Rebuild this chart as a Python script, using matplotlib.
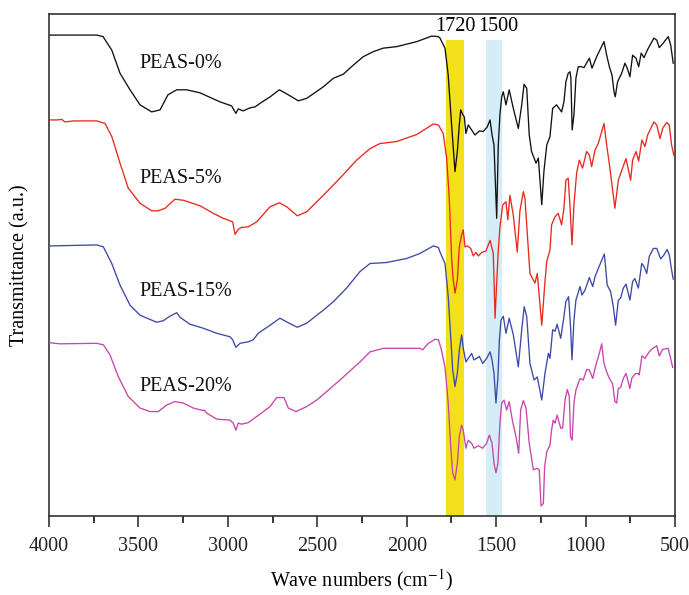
import matplotlib
matplotlib.use("Agg")
import matplotlib.pyplot as plt

plt.rcParams['font.family'] = ['Liberation Serif', 'DejaVu Serif']
plt.rcParams['mathtext.fontset'] = 'stix'

# ---- data (wavenumber cm^-1, transmittance a.u.) ----
wn_0 = [3994, 3733, 3698, 3649, 3603, 3547, 3491, 3426, 3379, 3335, 3286, 3230, 3156, 3044, 2979,
        2955, 2942, 2915, 2876, 2848, 2820, 2764, 2712, 2662, 2606, 2559, 2466, 2410, 2355, 2299,
        2243, 2187, 2131, 2056, 1944, 1860, 1823, 1814, 1786, 1768, 1749, 1730, 1717, 1706, 1698,
        1687, 1678, 1669, 1656, 1637, 1618, 1594, 1572, 1550, 1534, 1523, 1512, 1497, 1488, 1479,
        1469, 1460, 1445, 1427, 1404, 1376, 1357, 1344, 1329, 1315, 1302, 1277, 1264, 1245, 1233,
        1217, 1199, 1184, 1162, 1134, 1121, 1110, 1097, 1087, 1082, 1075, 1065, 1054, 1041, 1022,
        1009, 979, 964, 938, 897, 882, 867, 852, 841, 834, 821, 798, 780, 767, 752, 737, 718, 703,
        689, 673, 655, 618, 602, 588, 566, 538, 524, 510]
t_0 = [95.8, 95.8, 95.5, 92.8, 88.2, 84.9, 81.9, 80.5, 80.9, 83.9, 84.9, 84.9, 84.3, 82.5, 81.7,
       80.2, 81.1, 80.7, 81.3, 81.5, 82.2, 83.5, 84.9, 83.9, 82.7, 83.2, 85.5, 87.2, 88.0, 89.8,
       91.5, 92.5, 93.2, 93.5, 94.5, 95.6, 95.5, 95.2, 93.2, 87.8, 77.9, 68.6, 72.6, 77.9, 80.9,
       80.0, 79.5, 76.2, 77.9, 76.9, 75.9, 76.7, 76.6, 77.5, 78.9, 75.9, 73.9, 59.3, 73.9, 79.9,
       83.5, 84.5, 81.9, 84.9, 81.2, 77.2, 81.9, 86.0, 85.2, 75.9, 72.6, 70.3, 71.3, 62.0, 68.6,
       73.9, 75.6, 81.2, 81.9, 80.5, 82.5, 86.5, 88.2, 88.5, 87.2, 76.9, 79.9, 87.2, 89.5, 89.5,
       89.3, 91.2, 89.2, 91.5, 94.5, 91.8, 89.5, 87.8, 84.5, 83.5, 86.5, 88.2, 90.2, 89.2, 87.5,
       91.8, 91.2, 89.5, 92.2, 91.3, 92.8, 95.2, 94.8, 93.3, 94.2, 95.5, 93.8, 90.2]

wn_5 = [3994, 3957, 3929, 3911, 3864, 3733, 3687, 3649, 3603, 3557, 3491, 3426, 3389, 3351, 3296,
        3249, 3156, 3081, 3026, 2973, 2960, 2942, 2923, 2886, 2839, 2764, 2712, 2671, 2612, 2559,
        2466, 2373, 2280, 2205, 2149, 2056, 1944, 1851, 1823, 1796, 1777, 1762, 1749, 1740, 1730,
        1717, 1706, 1693, 1684, 1674, 1661, 1642, 1628, 1613, 1600, 1581, 1557, 1534, 1516, 1506,
        1497, 1488, 1479, 1463, 1445, 1435, 1423, 1404, 1382, 1367, 1348, 1339, 1311, 1283, 1270,
        1245, 1227, 1217, 1199, 1190, 1171, 1153, 1134, 1121, 1110, 1097, 1087, 1076, 1065, 1050,
        1035, 1017, 994, 979, 966, 947, 929, 897, 882, 864, 836, 817, 774, 748, 737, 718, 703, 685,
        668, 653, 618, 602, 584, 569, 547, 532, 519, 506]
t_5 = [78.9, 78.9, 79.0, 78.5, 78.7, 78.7, 78.2, 75.6, 70.3, 65.3, 62.3, 60.8, 60.8, 61.3, 63.1,
       62.9, 61.8, 60.3, 59.3, 58.6, 56.1, 57.1, 57.5, 57.6, 58.6, 61.6, 62.4, 61.6, 59.8, 60.6,
       63.9, 67.3, 70.9, 73.2, 74.2, 74.6, 76.0, 78.1, 77.9, 76.2, 71.3, 63.3, 51.3, 47.0, 44.4,
       47.0, 53.6, 56.0, 57.0, 53.6, 53.8, 53.3, 51.8, 52.5, 51.8, 52.5, 52.8, 54.9, 52.3, 39.4,
       46.4, 52.9, 57.5, 62.0, 62.6, 59.0, 63.9, 59.9, 52.6, 60.8, 64.6, 63.3, 48.3, 46.4, 48.3,
       38.0, 46.7, 50.7, 53.0, 58.0, 59.6, 60.3, 58.0, 61.3, 66.9, 67.3, 61.6, 54.0, 62.0, 68.3,
       70.9, 69.3, 72.6, 71.9, 69.6, 72.9, 74.2, 78.2, 73.9, 69.3, 61.3, 66.9, 71.2, 66.9, 70.9,
       72.6, 70.7, 74.9, 73.6, 75.9, 78.5, 77.9, 75.2, 77.2, 78.4, 77.9, 73.9, 71.8]

wn_15 = [3994, 3733, 3696, 3649, 3603, 3547, 3491, 3398, 3361, 3324, 3286, 3268, 3212, 3137, 3062,
         2988, 2973, 2955, 2932, 2886, 2858, 2830, 2764, 2709, 2662, 2612, 2559, 2503, 2466, 2410,
         2336, 2261, 2205, 2112, 2000, 1926, 1851, 1823, 1814, 1786, 1768, 1754, 1743, 1730, 1717,
         1706, 1693, 1684, 1669, 1656, 1637, 1624, 1609, 1594, 1575, 1553, 1534, 1523, 1512, 1501,
         1490, 1482, 1473, 1460, 1445, 1427, 1404, 1376, 1357, 1343, 1329, 1311, 1288, 1270, 1245,
         1227, 1208, 1199, 1184, 1171, 1159, 1139, 1125, 1110, 1095, 1084, 1076, 1065, 1054, 1031,
         1020, 1003, 979, 960, 947, 929, 895, 879, 860, 845, 832, 817, 804, 789, 774, 752, 737, 724,
         705, 686, 673, 658, 644, 621, 602, 580, 562, 544, 532, 519, 510]
t_15 = [53.8, 54.0, 53.6, 50.3, 46.0, 42.0, 40.0, 38.6, 38.9, 39.8, 40.5, 39.6, 38.2, 37.4, 36.4,
        35.7, 35.1, 33.6, 34.4, 34.7, 35.1, 36.4, 38.0, 39.4, 38.5, 37.6, 38.4, 40.0, 41.0, 42.7,
        45.4, 48.7, 50.3, 50.5, 51.3, 52.3, 53.8, 53.5, 52.6, 50.3, 43.7, 35.7, 29.1, 25.8, 28.4,
        33.0, 36.1, 33.4, 30.7, 31.4, 32.4, 31.1, 31.4, 31.8, 30.4, 31.4, 32.7, 31.1, 28.4, 22.5,
        27.7, 35.1, 39.0, 39.8, 36.4, 39.4, 36.1, 29.7, 37.1, 41.7, 39.7, 30.4, 27.1, 27.7, 23.1,
        28.4, 32.4, 31.4, 37.1, 36.8, 38.2, 35.4, 38.7, 42.7, 43.7, 37.7, 31.1, 39.0, 43.0, 45.7,
        44.0, 45.0, 47.5, 45.7, 47.7, 49.3, 52.2, 46.0, 44.7, 41.7, 38.0, 43.0, 43.4, 45.4, 46.2,
        43.0, 46.7, 47.3, 45.4, 50.3, 49.7, 48.3, 51.7, 53.3, 53.3, 51.2, 52.0, 53.1, 52.0, 49.0, 47.2]

wn_20 = [3994, 3938, 3733, 3696, 3659, 3613, 3557, 3491, 3435, 3389, 3342, 3296, 3249, 3193, 3137,
         3132, 3118, 3062, 2988, 2970, 2955, 2942, 2923, 2886, 2820, 2764, 2727, 2686, 2662, 2619,
         2559, 2503, 2447, 2373, 2261, 2205, 2131, 1926, 1911, 1879, 1842, 1823, 1808, 1786, 1768,
         1754, 1743, 1730, 1717, 1706, 1693, 1684, 1669, 1656, 1637, 1624, 1600, 1575, 1553, 1538,
         1523, 1512, 1501, 1490, 1479, 1469, 1456, 1441, 1427, 1408, 1389, 1374, 1363, 1348, 1333,
         1315, 1292, 1270, 1259, 1249, 1236, 1229, 1217, 1199, 1190, 1181, 1171, 1159, 1139, 1128,
         1115, 1102, 1091, 1084, 1075, 1065, 1054, 1031, 1013, 994, 979, 960, 942, 923, 910, 897,
         882, 867, 849, 836, 826, 817, 804, 789, 774, 752, 742, 724, 705, 700, 685, 668, 644, 625,
         602, 588, 569, 538, 529, 513]
t_20 = [34.5, 34.3, 34.4, 34.1, 32.1, 27.8, 23.8, 21.5, 20.8, 20.8, 22.1, 22.8, 22.5, 21.5, 21.0,
        21.1, 20.5, 19.3, 19.1, 18.5, 17.1, 18.5, 18.3, 18.6, 20.3, 21.8, 23.6, 23.6, 21.5, 20.8,
        21.8, 23.1, 24.8, 27.1, 30.7, 32.7, 33.4, 33.4, 33.1, 34.4, 35.2, 35.1, 33.4, 29.7, 22.5,
        13.9, 8.6, 7.2, 10.5, 15.8, 18.1, 17.1, 13.5, 15.1, 14.5, 13.5, 14.0, 13.5, 14.5, 16.1,
        14.5, 10.5, 8.6, 10.5, 18.5, 22.5, 23.1, 21.1, 22.8, 18.8, 15.8, 12.5, 21.1, 23.0, 21.5,
        14.5, 9.2, 9.5, 9.2, 2.0, 2.5, 9.8, 12.8, 14.1, 17.1, 19.1, 18.5, 20.1, 17.5, 17.5,
        23.1, 25.2, 23.8, 15.8, 15.1, 22.5, 25.1, 27.4, 27.1, 29.2, 29.1, 27.4, 30.1, 32.4, 34.3, 30.4,
        28.7, 27.4, 26.4, 22.8, 22.5, 25.4, 25.6, 27.4, 28.4, 25.4, 27.4, 28.3, 28.4, 28.1, 31.9, 31.4, 32.7, 33.4,
        33.9, 31.9, 33.2, 33.4, 32.1, 29.6]

labels = ['PEAS-0%', 'PEAS-5%', 'PEAS-15%', 'PEAS-20%']
label_y = [90.2, 67.3, 44.7, 25.8]
colors = ['#111111', '#e8281e', '#3d48a8', '#c944ad']

band_1720 = (1780, 1682)
band_1500 = (1557, 1465)
band_names = ['1720', '1500']

fig = plt.figure(figsize=(6.89, 5.95), dpi=100)
ax = fig.add_axes([49/689, 79/595, 626/689, 502/595])

ax.axvspan(band_1720[0], band_1720[1], ymin=0, ymax=0.948, color='#f4e01a', lw=0, zorder=1)
ax.axvspan(band_1500[0], band_1500[1], ymin=0, ymax=0.948, color='#d4eef8', lw=0, zorder=1)

series = [(wn_0, t_0), (wn_5, t_5), (wn_15, t_15), (wn_20, t_20)]
for (x, y), c in zip(series, colors):
    ax.plot(x, y, color=c, lw=0.95, zorder=3)

for lab, ly in zip(labels, label_y):
    ax.text(3495, ly, lab, fontsize=14.5, va='center', ha='left', color='#111111')

ax.text(1727, 97.6, band_names[0], fontsize=14.5, ha='center', va='center')
ax.text(1490, 97.6, band_names[1], fontsize=14.5, ha='center', va='center')

ax.set_xlim(4000, 500)
ax.set_ylim(0, 100)
ax.set_xticks(range(4000, 499, -500))
ax.set_xticks(range(3750, 500, -500), minor=True)
ax.tick_params(axis='x', which='major', direction='out', length=8, width=1.1, labelsize=14.5, pad=7, colors='#222222')
ax.tick_params(axis='x', which='minor', direction='out', length=5, width=1.1)
ax.set_yticks([])
for s in ax.spines.values():
    s.set_color('#333333')
    s.set_linewidth(1.2)

ax.set_xlabel('Wave numbers (cm$^{-1}$)', fontsize=14.5, labelpad=8)
ax.set_ylabel('Transmittance (a.u.)', fontsize=14.5, labelpad=14)

fig.savefig('out.png', dpi=100)
